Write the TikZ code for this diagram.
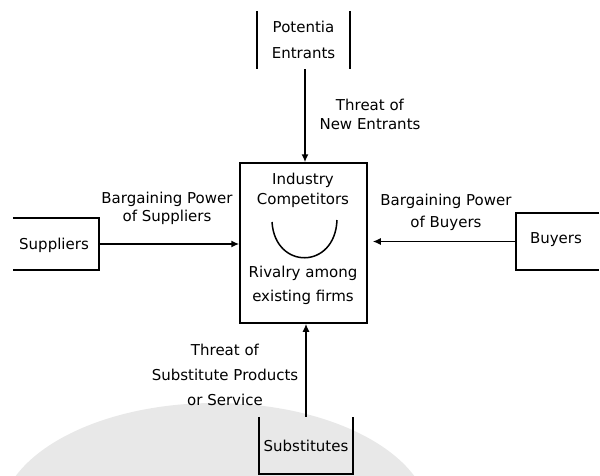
\documentclass[tikz,border=0pt]{standalone}
\usepackage{fontspec}
\setmainfont{DejaVu Sans}
\usetikzlibrary{arrows.meta}
\begin{document}
\begin{tikzpicture}[x=1pt,y=-1pt,
  edge/.style={line width=1.5pt},
  conn/.style={line width=1.5pt,-{Latex[length=8pt,width=7pt]}},
  lbl/.style={align=center,inner sep=0pt,font=\fontsize{15}{#1}\selectfont},
  lbl/.default=20,
  boxarea/.style={inner sep=0pt,draw=none}]
\fill[white] (0,0) rectangle (600,475);
\useasboundingbox (0,0) rectangle (600,475);
% faint watermark
\begin{scope}
\clip (0,0) rectangle (600,475);
\fill[gray!18] (215,520) ellipse[x radius=215, y radius=117];
\end{scope}
% nodes
\node[boxarea,minimum width=93pt,minimum height=58pt] (pe) at (303.5,40) {};
\node[lbl=26] (petext) at (303.5,40) {Potentia\\Entrants};
\node[boxarea,draw,edge,minimum width=127pt,minimum height=160pt] (comp) at (303.5,243) {};
\node[lbl=20] (ind) at (303,190) {Industry\\Competitors};
\node[lbl=24] (riv) at (303,285) {Rivalry among\\existing firms};
\node[boxarea,minimum width=86pt,minimum height=52pt] (sup) at (56,244) {};
\node[lbl] (suptext) at (54,245) {Suppliers};
\node[boxarea,minimum width=83pt,minimum height=57pt] (buy) at (557.5,241.5) {};
\node[lbl] (buytext) at (556,240) {Buyers};
\node[boxarea,minimum width=94pt,minimum height=57pt] (sub) at (306,445.5) {};
\node[lbl] (subtext) at (306,446) {Substitutes};
% labels
\node[lbl=19] (tne) at (370,114) {Threat of\\New Entrants};
\node[lbl=18] (bps) at (167,208.5) {Bargaining Power\\of Suppliers};
\node[lbl=22] (bpb) at (446,212) {Bargaining Power\\of Buyers};
\node[lbl=25] (tsp) at (225,375) {Threat of\\Substitute Products\\or Service};
% box sides
\draw[edge] (pe.north west) -- (pe.south west);
\draw[edge] (pe.north east) -- (pe.south east);
\draw[edge] (sup.north west) -- (sup.north east) -- (sup.south east) -- (sup.south west);
\draw[edge] (buy.north east) -- (buy.north west) -- (buy.south west) -- (buy.south east);
\draw[edge] (sub.north west) -- (sub.south west) -- (sub.south east) -- (sub.north east);
% rivalry arc
\draw[edge] (272,222) .. controls (275,270) and (335,270) .. (337,220);
% connectors
\draw[conn] (pe.south -| 305,0) -- (comp.north -| 305,0);
\draw[conn] (sup.east) -- (comp.west |- sup.east);
\draw[conn,shorten >=5pt] (buy.west) -- (comp.east |- buy.west);
\draw[conn] (sub.north) -- (comp.south -| sub.north);
\end{tikzpicture}
\end{document}
